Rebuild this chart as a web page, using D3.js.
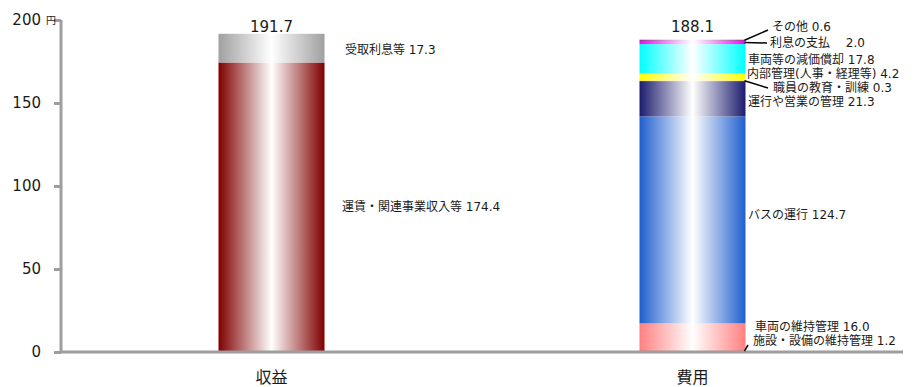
<!DOCTYPE html>
<html>
<head>
<meta charset="utf-8">
<script src="https://cdn.jsdelivr.net/npm/d3@7"></script>
<style>
  html, body { margin: 0; padding: 0; background: #fff; }
  svg { display: block; }
  text { fill: #1a1a1a; }
</style>
</head>
<body>
<svg id="chart" width="918" height="387"></svg>
<script>
// 収益と費用の内訳（円）
const categories = ["収益", "費用"];
const yTicks = [0, 50, 100, 150, 200];
const unitLabel = "円";

// 収益（下から）
const revenueNames = ["運賃・関連事業収入等", "受取利息等"];
const revenueValues = [174.4, 17.3];
const revenueTotal = 191.7;

// 費用（下から）
const costNames = [
  "施設・設備の維持管理",
  "車両の維持管理",
  "バスの運行",
  "運行や営業の管理",
  "職員の教育・訓練",
  "内部管理(人事・経理等)",
  "車両等の減価償却",
  "利息の支払",
  "その他"
];
const costValues = [1.2, 16.0, 124.7, 21.3, 0.3, 4.2, 17.8, 2.0, 0.6];
const costTotal = 188.1;

const revenueColors = ["#7f0000", "#a0a0a0"];
const costColors = ["#ff7070", "#ff8080", "#1f5fcf", "#1c1c6e", "#e08020", "#ffff00", "#00ffff", "#ff00ff", "#7a007a"];

const svg = d3.select("#chart");
const fontLatin = "'DejaVu Sans', Verdana, 'Noto Sans CJK JP', sans-serif";
const fontJa = "'DejaVu Sans', 'Noto Sans CJK JP', sans-serif";

const y = d3.scaleLinear().domain([0, 200]).range([352, 20]);
const x = d3.scalePoint().domain(categories).range([61, 903]).padding(0.5);
const barW = 106;

// 棒の横グラデーション（端の色 → 中央で白 → 端の色）
const defs = svg.append("defs");
function gradient(id, color) {
  const g = defs.append("linearGradient").attr("id", id)
    .attr("x1", 0).attr("x2", 1).attr("y1", 0).attr("y2", 0);
  g.append("stop").attr("offset", 0).attr("stop-color", color);
  g.append("stop").attr("offset", 0.5).attr("stop-color", "#ffffff");
  g.append("stop").attr("offset", 1).attr("stop-color", color);
  return `url(#${id})`;
}

function stack(values) {
  let acc = 0;
  return values.map(v => { const s = acc; acc += v; return [s, acc]; });
}

function drawBar(cat, values, colors, prefix) {
  const segs = stack(values);
  const cx = x(cat);
  svg.append("g").selectAll("rect").data(segs).join("rect")
    .attr("x", cx - barW / 2)
    .attr("width", barW)
    .attr("y", d => y(d[1]))
    .attr("height", d => y(d[0]) - y(d[1]))
    .attr("fill", (d, i) => gradient(`${prefix}${i}`, colors[i]));
  return segs;
}

const revSegs = drawBar("収益", revenueValues, revenueColors, "rev");
const costSegs = drawBar("費用", costValues, costColors, "cost");

// 縦軸
const axisColor = "#9e9e9e";
const yAxis = d3.axisLeft(y).tickValues(yTicks).tickSize(7).tickPadding(13);
const gy = svg.append("g").attr("transform", "translate(61,0)").call(yAxis);
gy.select(".domain").attr("stroke", axisColor).attr("stroke-width", 3)
  .attr("d", `M0,${y(200)}V${y(0)}`);
gy.selectAll(".tick line").attr("stroke", axisColor).attr("stroke-width", 3);
gy.selectAll(".tick text").attr("font-family", fontLatin).attr("font-size", 15)
  .attr("fill", "#1a1a1a");
svg.append("text").attr("x", 46).attr("y", y(200) - 1)
  .attr("font-family", "'Noto Sans CJK JP', sans-serif").attr("font-size", 10)
  .attr("dominant-baseline", "central").text(unitLabel);

// 横軸（基線）
svg.append("line").attr("x1", 60).attr("x2", 903).attr("y1", y(0)).attr("y2", y(0))
  .attr("stroke", axisColor).attr("stroke-width", 3);

// カテゴリ名
svg.selectAll(".cat").data(categories).join("text")
  .attr("class", "cat")
  .attr("x", d => x(d)).attr("y", 383)
  .attr("text-anchor", "middle")
  .attr("font-family", "'Noto Sans CJK JP', sans-serif").attr("font-size", 16)
  .text(d => d);

// 合計値
const totals = [revenueTotal, costTotal];
svg.selectAll(".total").data(categories).join("text")
  .attr("class", "total")
  .attr("x", d => x(d)).attr("y", y(200) + 12)
  .attr("text-anchor", "middle")
  .attr("font-family", fontLatin).attr("font-size", 15)
  .text((d, i) => d3.format(".1f")(totals[i]));

// 内訳ラベル
function labelText(name, v) {
  return name === "利息の支払" ? `${name}　 ${v.toFixed(1)}` : `${name} ${v.toFixed(1)}`;
}
const revLabelPos = [[342, 207], [345, 50]];
const costLabelPos = [
  [753, 341], [755, 327], [748, 215], [748, 102], [773, 88],
  [747, 74], [748, 60], [770, 43], [772, 27]
];
// 引き出し線の先端（ラベル側）
const leaders = { 0: [748, 345], 4: [768, 88], 7: [767, 43], 8: [768, 30] };

function drawLabels(names, values, pos) {
  svg.append("g").selectAll("text").data(names).join("text")
    .attr("x", (d, i) => pos[i][0]).attr("y", (d, i) => pos[i][1])
    .attr("dominant-baseline", "central")
    .attr("font-family", fontJa).attr("font-size", 12)
    .text((d, i) => labelText(d, values[i]));
}
drawLabels(revenueNames, revenueValues, revLabelPos);
drawLabels(costNames, costValues, costLabelPos);

const barRight = x("費用") + barW / 2;
svg.append("g").selectAll("line").data(Object.keys(leaders).map(Number)).join("line")
  .attr("x1", barRight - 1)
  .attr("y1", i => y((costSegs[i][0] + costSegs[i][1]) / 2))
  .attr("x2", i => leaders[i][0])
  .attr("y2", i => leaders[i][1])
  .attr("stroke", "#000").attr("stroke-width", 1.5);
</script>
</body>
</html>
